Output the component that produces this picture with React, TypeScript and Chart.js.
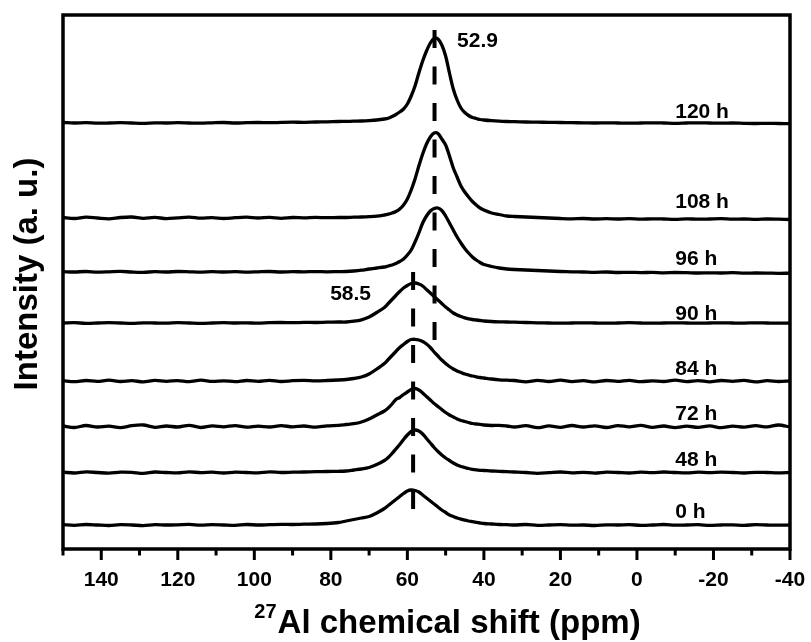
import React, { useEffect, useRef } from "react";
import { Chart, registerables } from "chart.js";

Chart.register(...registerables);

const FONT = '"Liberation Sans", Arial, Helvetica, sans-serif';

// 27Al chemical shift grid (ppm)
const shiftPpm = [
  150, 147, 144, 141, 138, 135, 132, 129, 126, 123, 120, 117, 114, 111, 108, 105, 102, 99, 96, 93, 90, 87, 84, 81, 78,
  76, 74, 72, 70, 68,
  66, 65, 64, 63, 62, 61, 60, 59, 58, 57, 56, 55, 54, 53, 52, 51, 50, 49, 48, 47, 46, 45, 44, 43, 42, 41, 40,
  38, 36, 34,
  32, 29, 26, 23, 20, 17, 14, 11, 8, 5, 2, -1, -4, -7, -10, -13, -16, -19, -22, -25, -28, -31, -34, -37, -40,
];

const seriesNames = ["120 h", "108 h", "96 h", "90 h", "84 h", "72 h", "48 h", "0 h"];
// vertical stacking offset of each spectrum (a.u.)
const baselineLevels = [426, 331, 277, 226, 168, 122.5, 76.5, 24];
// level of each spectrum's text label (a.u.)
const labelLevels = [430.7, 340.7, 284, 229, 174, 129, 83, 30.7];
const labelShift = -10;

const i120h = [
  0.5, 0, 0.3, -0.2, 0, 0.4, 0, -0.3, 0.2, 0, 0.3, 0, -0.2, 0.2, 0.5, 0, 0.3, 0.5, 0.3, 0.6, 0.8, 0.7, 1, 1.2, 1.5,
  1.6, 1.8, 2, 2.4, 3,
  4, 4.8, 6.5, 8.5, 11, 14, 19, 27, 37, 50, 62, 72, 80, 84.5, 84, 78, 67, 50, 34, 23, 15, 10.5, 7.5, 5.5, 4.5, 3.5, 3,
  2.3, 1.8, 1.5,
  1.3, 1, 0.9, 0.6, 0.5, 0.3, 0.2, 0, 0.2, 0, -0.2, 0, 0.2, 0, -0.3, 0, 0.2, 0, -0.2, 0, -0.3, -0.5, -0.3, -0.5, -0.6,
];
const i108h = [
  0.5, -0.5, 0.8, 0, -0.8, 0.5, 1, -0.3, 0.6, -0.6, 0.2, 0.9, -0.2, 0.4, -0.5, 0.3, 0.8, 0, 0.6, -0.3, 0.5, 0.2, 0.6, 0.3, 0.5,
  0.5, 0.8, 1, 1.3, 1.8,
  3, 3.8, 5, 6.5, 9, 13, 19, 28, 39, 52, 64, 74, 81, 85, 84.5, 79, 73, 62, 50, 41, 32, 26, 21, 16.5, 13, 10, 8,
  5, 3.5, 2,
  1.5, 1, 0.5, 0, -0.5, -0.8, -0.5, -1, -0.7, -1, -0.6, -1.2, -0.8, -1, -1.3, -0.8, -1.2, -1, -0.7, -1.2, -1, -1.4, -1, -1.2, -1.5,
];
const i96h = [
  0.3, 0, 0.5, -0.2, 0.2, 0.6, 0, -0.3, 0.3, 0, 0.5, 0.2, -0.2, 0.4, 0, 0.3, -0.2, 0.2, 0.5, 0, 0.3, 0.2, 0.4, 0.2, 0.4,
  0.5, 1, 1.8, 3, 4,
  5, 6, 7, 8.5, 10.5, 13, 17, 22, 30, 39, 49, 56, 61, 63.5, 64, 61.5, 56, 49, 42, 35, 29, 23.5, 19, 15, 12, 9.5, 7.5,
  5.5, 4, 3,
  2.5, 2, 1.5, 1, 0.5, 0.2, 0, -0.3, 0, -0.5, -0.3, -0.6, -0.4, -0.8, -0.5, -0.7, -1, -0.8, -1, -0.7, -1.2, -1, -1.1, -1.3, -1.2,
];
const i90h = [
  0, 0.3, -0.3, 0, 0.4, 0, -0.4, 0.2, 0, -0.2, 0.3, 0, -0.3, 0, 0.4, 0, 0.2, -0.2, 0.3, 0.5, 0.3, 0.6, 0.5, 0.8, 1,
  1, 1.8, 3.2, 6, 10.5,
  15.5, 19.5, 23.5, 27.5, 31.5, 35, 37.5, 39.5, 40, 39, 37, 33.5, 30, 26.5, 23, 19.5, 16, 13, 10, 8, 6.5, 5.2, 4.2, 3.5, 3, 2.5, 2,
  1.5, 1.2, 1,
  0.8, 0.5, 0.2, 0, -0.2, 0, 0.2, 0, -0.2, 0, 0.3, 0, -0.2, 0, 0.2, 0, -0.2, 0, 0.2, 0, -0.1, 0.2, 0, -0.2, 0,
];
const i84h = [
  0.3, -0.6, 0.5, -0.4, 0.9, -0.5, 0.3, -0.8, 0.6, -0.3, 0.4, -0.7, 0.8, -0.4, 0.2, -0.6, 0.5, -0.3, 0.7, -0.5, 0.3, 0.6, 0.2, 0.5, 1,
  1.5, 2.5, 4, 7, 12,
  17.5, 21.5, 25.5, 29.5, 33.5, 36.5, 39.5, 41.5, 41.7, 41, 39.5, 37, 33.5, 29, 25, 21, 17.5, 14.5, 12, 10, 8.5, 7, 6, 5, 4.2, 3.5, 3,
  2, 1.2, 0.8,
  0.5, -0.8, 0.6, -0.5, 0.8, -0.6, 0.3, -0.9, 0.5, -0.4, 0.7, -0.7, 0.2, -0.5, 0.9, -0.6, 0.4, -0.8, 0.5, -0.3, 0.6, -0.9, 0.3, -0.5, 0,
];
const i72h = [
  0.5, -1, 1, -0.5, 0.3, -1.2, 0.8, 1.5, -0.8, 0.5, -0.5, 1.2, -1, 0.6, -0.3, 0.9, -0.7, 0.4, -0.5, 0.8, -0.3, 0.5, -0.6, 0.7, 1.2,
  2, 2.8, 4.5, 7.5, 11.5,
  15.5, 18.5, 22.5, 27, 29, 32, 34.5, 37, 38, 36.5, 33.5, 30, 26.5, 23, 20, 17, 14, 11.5, 9.5, 7.5, 6, 5, 4, 3, 2.5, 2.2, 1.5,
  1, 1.2, 0.5,
  -0.5, 0.8, -1.2, 0.6, -0.8, 1, -0.5, 0.7, -1, 0.9, -0.3, 1.2, -0.8, 0.5, -1.1, 0.4, -0.9, 0.6, -1.2, 0.3, -0.7, 0.8, -0.4, 1.5, -0.5,
];
const i48h = [
  0.3, -0.5, 0.6, 0, -0.6, 0.4, 0.2, -0.8, 0.5, 0, -0.4, 0.7, -0.2, 0.3, -0.5, 0.4, 0, -0.3, 0.6, 0, 0.3, 0.5, 0.8, 1, 1.2,
  1.5, 2.5, 3.5, 5, 8,
  12, 15, 19, 23.5, 28, 33, 37.5, 41, 42.5, 41.5, 38.5, 34, 29.5, 25, 21, 17.5, 14.5, 12, 9.5, 7.5, 6, 5, 4, 3.2, 2.6, 2.2, 2,
  1.5, 1.2, 0.8,
  0.5, 0, -0.8, -0.2, 0.5, -0.3, 0.2, -0.6, 0.4, 0, -0.5, 0.3, -0.2, 0.5, 0, -0.4, 0.3, -0.2, 0.4, 0, -0.5, 0.2, 0, -0.3, 0,
];
const i0h = [
  0.3, -0.3, 0.5, 0, -0.5, 0.3, 0, -0.6, 0.4, 0, 0.2, 0.6, -0.2, 0.3, 0, -0.3, 0.5, 0, 0.3, 0.6, 0.5, 0.8, 1, 1.5, 2.5,
  4, 5.5, 7, 8.5, 12,
  16.5, 19.5, 22.5, 25.5, 28.5, 31.5, 34, 35, 34.5, 33, 30, 27, 24, 21, 18, 15, 12.5, 10, 8.5, 7, 5.8, 4.8, 4, 3.3, 2.6, 2, 1.5,
  1, 0.5, 0.3,
  0, 0.5, -0.3, 0, 0.4, -0.2, 0, -0.5, 0.2, 0, 0.3, -0.3, 0, 0.5, -0.2, 0, 0.3, -0.4, 0, 0.2, -0.3, 0.3, 0, -0.2, 0,
];
const intensities = [i120h, i108h, i96h, i90h, i84h, i72h, i48h, i0h];

const xMajorTicks = [140, 120, 100, 80, 60, 40, 20, 0, -20, -40];
const xMinorTicks = [150, 130, 110, 90, 70, 50, 30, 10, -10, -30];

// peak position markers (ppm) and their vertical span (a.u.)
const peakMarks = [52.9, 58.5];
const peakMarkTop = [519, 277];
const peakMarkBottom = [209, 39];
const peakLabels = ["52.9", "58.5"];
const peakLabelShift = [47, 69.5];
const peakLabelLevel = [502, 249];

const decorPlugin = {
  id: "decor",
  afterDraw(chart: any) {
    const { ctx, chartArea: a, scales } = chart;
    const xs = scales.x;
    const ys = scales.y;
    ctx.save();
    ctx.strokeStyle = "#000";
    ctx.fillStyle = "#000";
    // frame
    ctx.lineWidth = 3.5;
    ctx.strokeRect(a.left, a.top, a.right - a.left, a.bottom - a.top);
    // ticks
    ctx.lineWidth = 3;
    ctx.beginPath();
    xMajorTicks.forEach((v) => {
      const px = xs.getPixelForValue(v);
      ctx.moveTo(px, a.bottom);
      ctx.lineTo(px, a.bottom + 11);
    });
    xMinorTicks.forEach((v) => {
      const px = xs.getPixelForValue(v);
      ctx.moveTo(px, a.bottom);
      ctx.lineTo(px, a.bottom + 6.5);
    });
    ctx.stroke();
    // series labels
    ctx.font = `bold 21px ${FONT}`;
    ctx.textBaseline = "alphabetic";
    ctx.textAlign = "left";
    seriesNames.forEach((n, i) => {
      ctx.fillText(n, xs.getPixelForValue(labelShift), ys.getPixelForValue(labelLevels[i]));
    });
    // peak labels
    ctx.textAlign = "left";
    ctx.fillText(peakLabels[0], xs.getPixelForValue(peakLabelShift[0]), ys.getPixelForValue(peakLabelLevel[0]));
    ctx.textAlign = "right";
    ctx.fillText(peakLabels[1], xs.getPixelForValue(peakLabelShift[1]), ys.getPixelForValue(peakLabelLevel[1]));
    // x title with superscript
    const cx = (a.left + a.right) / 2 + 21;
    ctx.textAlign = "left";
    ctx.font = `bold 20px ${FONT}`;
    const w1 = ctx.measureText("27").width;
    ctx.font = `bold 33px ${FONT}`;
    const main = "Al chemical shift (ppm)";
    const w2 = ctx.measureText(main).width;
    const x0 = cx - (w1 + w2 + 1) / 2;
    ctx.font = `bold 20px ${FONT}`;
    ctx.fillText("27", x0, 618);
    ctx.font = `bold 33px ${FONT}`;
    ctx.fillText(main, x0 + w1 + 1, 633);
    // y title
    ctx.translate(37, 274);
    ctx.rotate(-Math.PI / 2);
    ctx.textAlign = "center";
    ctx.fillText("Intensity (a. u.)", 0, 0);
    ctx.restore();
  },
};

export default function App() {
  const ref = useRef<HTMLCanvasElement | null>(null);
  useEffect(() => {
    if (!ref.current) return;
    const spectra = seriesNames.map((name, i) => ({
      label: name,
      data: shiftPpm.map((x, j) => ({ x, y: baselineLevels[i] + intensities[i][j] })),
      borderColor: "#000",
      borderWidth: 3.3,
      pointRadius: 0,
      tension: 0.3,
      fill: false,
      borderJoinStyle: "round" as const,
      borderCapStyle: "round" as const,
    }));
    const markers = peakMarks.map((p, k) => ({
      label: "peak " + peakLabels[k],
      data: [
        { x: p, y: peakMarkTop[k] },
        { x: p, y: peakMarkBottom[k] },
      ],
      borderColor: "#000",
      borderWidth: 4,
      borderDash: [18, 18.5],
      pointRadius: 0,
      tension: 0,
      fill: false,
    }));
    const chart = new Chart(ref.current, {
      type: "line",
      data: { datasets: [...spectra, ...markers] as any },
      options: {
        animation: false,
        responsive: false,
        devicePixelRatio: 1,
        layout: { padding: { left: 63, top: 15, right: 21, bottom: 0 } },
        plugins: { legend: { display: false }, tooltip: { enabled: false } },
        scales: {
          x: {
            type: "linear",
            min: -40,
            max: 150,
            reverse: true,
            afterBuildTicks: (s: any) => {
              s.ticks = xMajorTicks.map((v) => ({ value: v }));
            },
            afterFit: (s: any) => {
              s.height = 93;
              s.paddingLeft = 0;
              s.paddingRight = 0;
            },
            grid: { display: false, drawTicks: false },
            border: { display: false },
            ticks: {
              autoSkip: false,
              maxRotation: 0,
              padding: 19,
              color: "#000",
              font: { family: FONT, size: 21, weight: "bold" },
              callback: (v: any) => String(v),
            },
          },
          y: { display: false, min: 0, max: 534 },
        },
      },
      plugins: [decorPlugin],
    });
    return () => chart.destroy();
  }, []);
  return (
    <div style={{ position: "absolute", left: 0, top: 0, width: 811, height: 642, background: "#fff" }}>
      <canvas ref={ref} width={811} height={642} style={{ display: "block" }} />
    </div>
  );
}
